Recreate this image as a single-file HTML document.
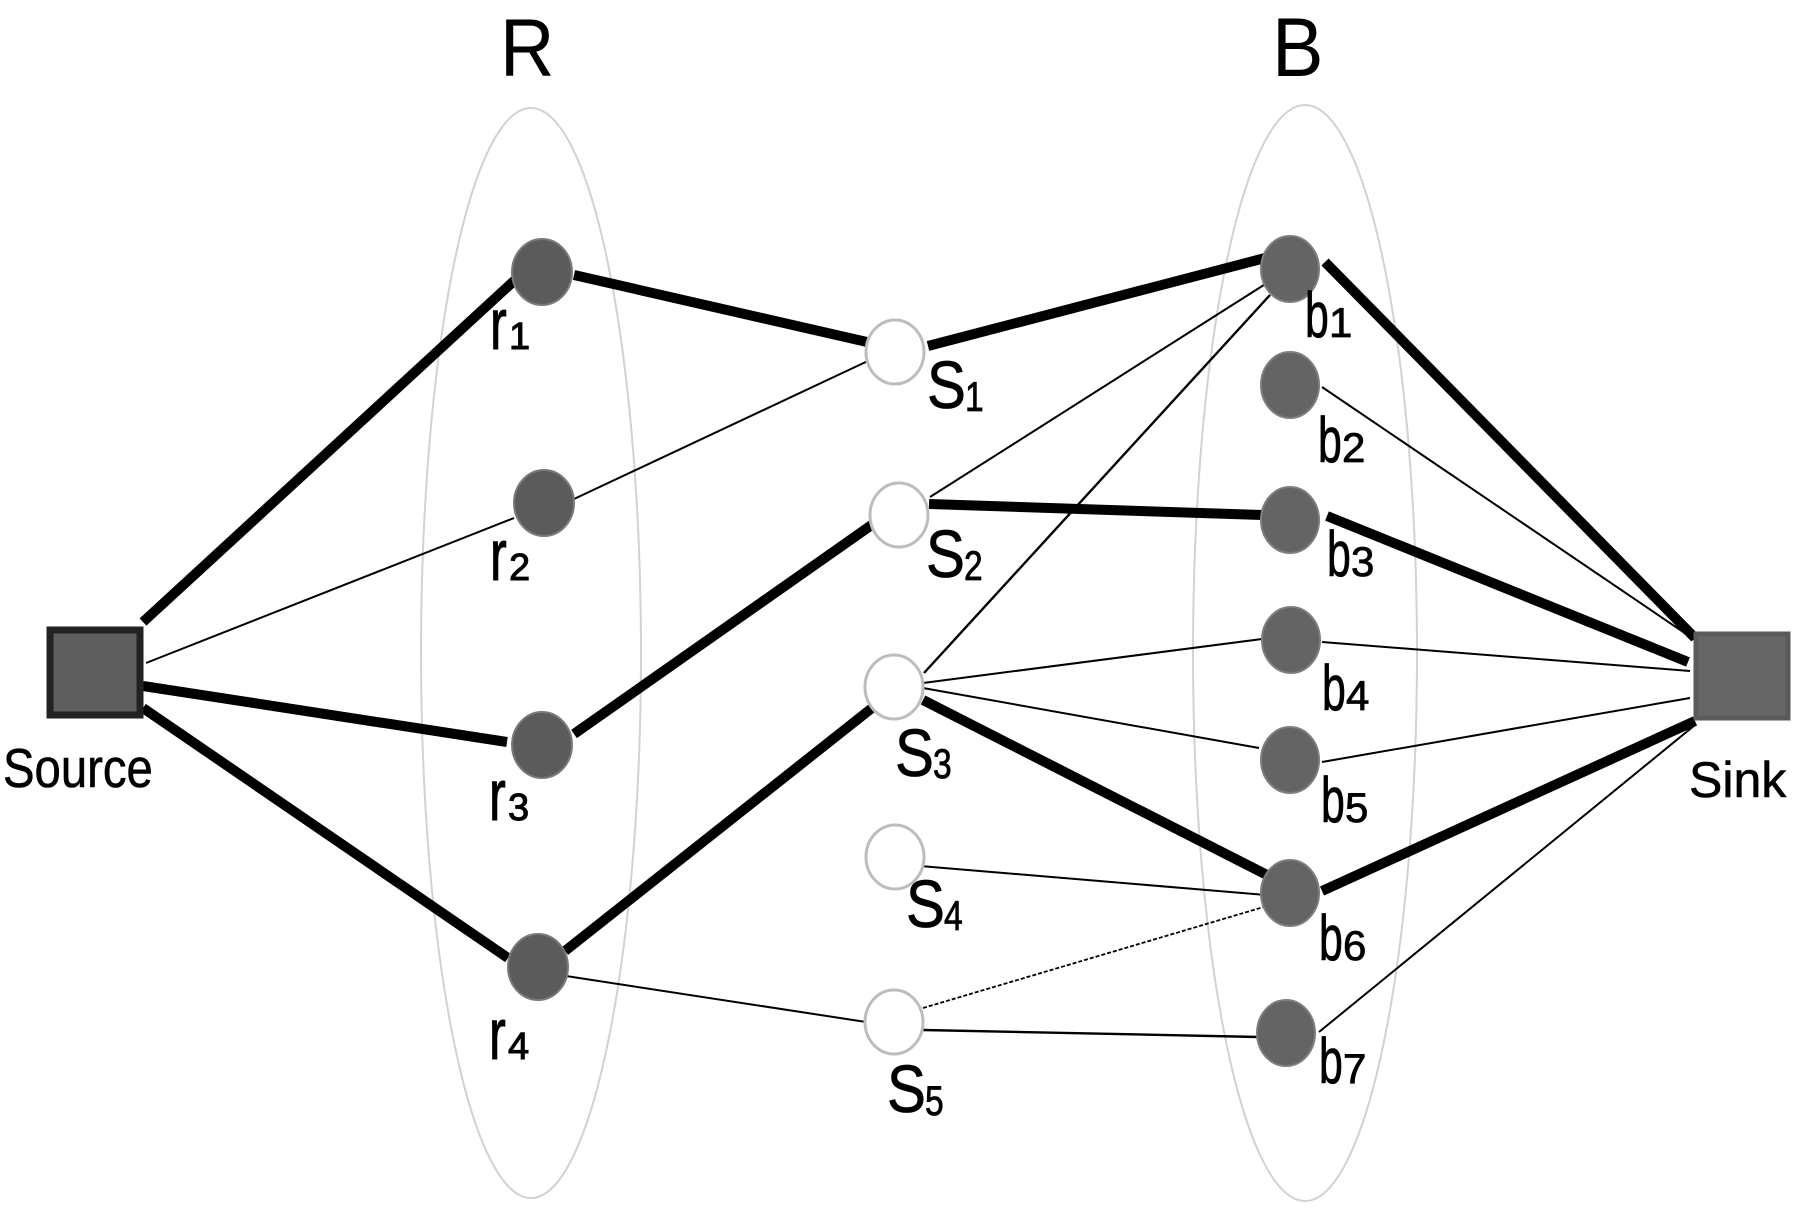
<!DOCTYPE html>
<html><head><meta charset="utf-8"><style>
html,body{margin:0;padding:0;background:#fff;}
svg{display:block;}
text{font-family:"Liberation Sans",Arial,sans-serif;fill:#000;}
</style></head><body>
<svg width="1800" height="1208" viewBox="0 0 1800 1208" xmlns="http://www.w3.org/2000/svg">
<rect width="1800" height="1208" fill="#fff"/>
<!-- group ellipses -->
<ellipse cx="531" cy="653" rx="110" ry="545" fill="none" stroke="#d2d2d2" stroke-width="2"/>
<ellipse cx="1305" cy="653" rx="112" ry="548" fill="none" stroke="#d2d2d2" stroke-width="2"/>
<!-- thin edges -->
<g stroke="#000" stroke-width="2" fill="none">
<line x1="146" y1="663" x2="514" y2="518"/>
<line x1="574" y1="499" x2="870" y2="360"/>
<line x1="930" y1="497" x2="1267" y2="283"/>
<line x1="924" y1="673" x2="1270" y2="295" stroke-width="2.4"/>
<line x1="923" y1="683" x2="1262" y2="639"/>
<line x1="923" y1="688" x2="1259" y2="748"/>
<line x1="920" y1="866" x2="1266" y2="895"/>
<line x1="923" y1="1008" x2="1267" y2="906" stroke-dasharray="4 2" stroke-width="1.8"/>
<line x1="923" y1="1030" x2="1259" y2="1037" stroke-width="2.4"/>
<line x1="566" y1="976" x2="866" y2="1022"/>
<line x1="1322" y1="387" x2="1695" y2="640"/>
<line x1="1322" y1="642" x2="1690" y2="671"/>
<line x1="1322" y1="762" x2="1690" y2="698"/>
<line x1="1319" y1="1032" x2="1695" y2="725"/>
</g>
<!-- thick edges -->
<g stroke="#000" stroke-width="10" fill="none">
<line x1="143" y1="622" x2="515" y2="280"/>
<line x1="143" y1="686" x2="507" y2="742"/>
<line x1="143" y1="708" x2="508" y2="958"/>
<line x1="574" y1="275" x2="867" y2="342"/>
<line x1="574" y1="734" x2="873" y2="524"/>
<line x1="565" y1="951" x2="872" y2="708"/>
<line x1="928" y1="346" x2="1265" y2="258"/>
<line x1="929" y1="504" x2="1262" y2="515"/>
<line x1="923" y1="700" x2="1267" y2="875"/>
<line x1="1325" y1="262" x2="1695" y2="638"/>
<line x1="1327" y1="516" x2="1688" y2="662"/>
<line x1="1322" y1="891" x2="1695" y2="721"/>
</g>
<!-- source / sink -->
<rect x="50" y="630" width="90" height="85" fill="#5e5e5e" stroke="#222" stroke-width="7"/>
<rect x="1696" y="634" width="92" height="84" fill="#666" stroke="#5a5a5a" stroke-width="5"/>
<!-- r nodes -->
<g fill="#5b5b5b" stroke="#7a7a7a" stroke-width="2">
<ellipse cx="542" cy="272" rx="30" ry="33"/>
<ellipse cx="544" cy="503" rx="30" ry="33"/>
<ellipse cx="542" cy="745" rx="30" ry="33"/>
<ellipse cx="538" cy="967" rx="30" ry="33"/>
</g>
<!-- b nodes -->
<g fill="#646464" stroke="#7e7e7e" stroke-width="2">
<ellipse cx="1290" cy="269" rx="29" ry="33"/>
<ellipse cx="1290" cy="385" rx="29" ry="33"/>
<ellipse cx="1290" cy="520" rx="29" ry="33"/>
<ellipse cx="1291" cy="640" rx="29" ry="33"/>
<ellipse cx="1290" cy="760" rx="29" ry="33"/>
<ellipse cx="1290" cy="893" rx="29" ry="33"/>
<ellipse cx="1286" cy="1033" rx="29" ry="33"/>
</g>
<!-- S nodes -->
<g fill="#fff" stroke="#bdbdbd" stroke-width="3">
<ellipse cx="895" cy="352" rx="29" ry="32"/>
<ellipse cx="899" cy="515" rx="29" ry="32"/>
<ellipse cx="894" cy="687" rx="29" ry="32"/>
<ellipse cx="895" cy="857" rx="29" ry="32"/>
<ellipse cx="894" cy="1022" rx="29" ry="32"/>
</g>
<!-- group labels -->
<text transform="translate(500,76) scale(0.92,1)" font-size="82">R</text>
<text transform="translate(1272,76) scale(0.92,1)" font-size="84">B</text>
<text transform="translate(3,787) scale(0.86,1)" font-size="55" stroke="#000" stroke-width="0.6">Source</text>
<text transform="translate(1689,797) scale(1.0,1)" font-size="50" stroke="#000" stroke-width="0.6">Sink</text>
<!-- r labels -->
<g stroke="#000" stroke-width="1">
<text transform="translate(490,349) scale(0.7,1)" font-size="72">r</text><text transform="translate(509,349)" font-size="38">1</text>
<text transform="translate(490,580) scale(0.7,1)" font-size="72">r</text><text transform="translate(509,580)" font-size="38">2</text>
<text transform="translate(489,820) scale(0.7,1)" font-size="72">r</text><text transform="translate(508,820)" font-size="38">3</text>
<text transform="translate(489,1059) scale(0.7,1)" font-size="72">r</text><text transform="translate(508,1059)" font-size="38">4</text>
</g>
<!-- S labels -->
<g stroke="#000" stroke-width="0.8">
<text transform="translate(927,408) scale(0.87,1)" font-size="67">S</text><text transform="translate(965,411) scale(0.8,1)" font-size="42">1</text>
<text transform="translate(926,577) scale(0.87,1)" font-size="67">S</text><text transform="translate(964,580) scale(0.8,1)" font-size="42">2</text>
<text transform="translate(895,776) scale(0.87,1)" font-size="67">S</text><text transform="translate(933,778) scale(0.8,1)" font-size="42">3</text>
<text transform="translate(906,927) scale(0.87,1)" font-size="67">S</text><text transform="translate(944,930) scale(0.8,1)" font-size="42">4</text>
<text transform="translate(887,1112) scale(0.87,1)" font-size="67">S</text><text transform="translate(925,1115) scale(0.8,1)" font-size="42">5</text>
</g>
<!-- b labels -->
<g stroke="#000" stroke-width="0.8">
<text transform="translate(1305,337) scale(0.67,1)" font-size="64">b</text><text transform="translate(1329,337)" font-size="42">1</text>
<text transform="translate(1318,462) scale(0.67,1)" font-size="64">b</text><text transform="translate(1342,462)" font-size="42">2</text>
<text transform="translate(1327,576) scale(0.67,1)" font-size="64">b</text><text transform="translate(1351,576)" font-size="42">3</text>
<text transform="translate(1322,710) scale(0.67,1)" font-size="64">b</text><text transform="translate(1346,710)" font-size="42">4</text>
<text transform="translate(1321,822) scale(0.67,1)" font-size="64">b</text><text transform="translate(1345,822)" font-size="42">5</text>
<text transform="translate(1319,960) scale(0.67,1)" font-size="64">b</text><text transform="translate(1343,960)" font-size="42">6</text>
<text transform="translate(1319,1083) scale(0.67,1)" font-size="64">b</text><text transform="translate(1343,1083)" font-size="42">7</text>
</g>
</svg>
</body></html>
